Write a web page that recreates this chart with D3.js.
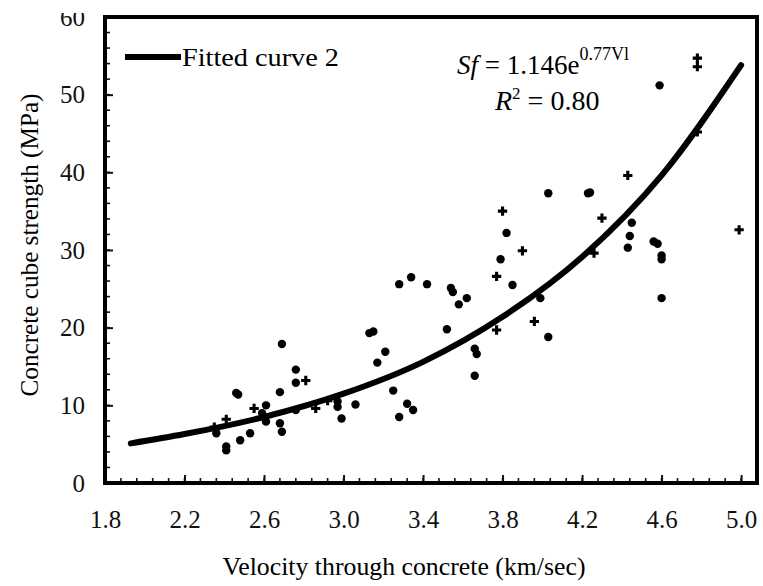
<!DOCTYPE html>
<html>
<head>
<meta charset="utf-8">
<script src="https://cdn.jsdelivr.net/npm/d3@7"></script>
<style>
  body { margin: 0; background: #fff; }
  svg { display: block; }
</style>
</head>
<body>
<svg id="chart" width="763" height="586"></svg>
<script>
// measured points: [velocity km/s, strength MPa]
const dots = [
  [2.36, 6.4], [2.41, 4.7], [2.41, 4.2], [2.46, 11.6], [2.47, 11.4], [2.48, 5.5],
  [2.53, 6.4], [2.61, 10.0], [2.61, 7.9], [2.59, 9.0], [2.69, 17.9], [2.68, 11.7],
  [2.68, 7.7], [2.69, 6.6], [2.76, 14.6], [2.76, 12.9], [2.76, 9.4], [2.97, 10.5],
  [2.97, 9.8], [2.99, 8.3], [3.06, 10.1], [3.13, 19.3], [3.15, 19.5], [3.21, 16.9],
  [3.17, 15.5], [3.25, 11.9], [3.32, 10.2], [3.35, 9.4], [3.28, 8.5], [3.28, 25.6],
  [3.34, 26.5], [3.42, 25.6], [3.54, 25.1], [3.55, 24.6], [3.62, 23.8], [3.58, 23.0],
  [3.52, 19.8], [3.66, 17.3], [3.67, 16.6], [3.66, 13.8], [3.82, 32.2], [3.79, 28.8],
  [3.85, 25.5], [3.99, 23.8], [4.03, 37.3], [4.03, 18.8], [4.23, 37.3], [4.24, 37.4],
  [4.45, 33.5], [4.44, 31.8], [4.43, 30.3], [4.56, 31.1], [4.58, 30.8], [4.60, 28.8],
  [4.60, 29.3], [4.60, 23.8], [4.59, 51.2]
];
const crosses = [
  [2.35, 7.2], [2.41, 8.2], [2.55, 9.6], [2.81, 13.2], [2.86, 9.6], [2.92, 10.6],
  [3.80, 35.0], [3.90, 29.9], [3.77, 26.6], [3.96, 20.8], [3.77, 19.7], [4.30, 34.1],
  [4.43, 39.6], [4.26, 29.6], [4.99, 32.6], [4.78, 45.2], [4.78, 54.7], [4.78, 53.6]
];
// fitted curve
const curveV = [1.93, 2.2, 2.6, 3.0, 3.4, 3.8, 4.2, 4.6, 5.0];
const curveS = [5.1, 6.3, 8.5, 11.5, 15.6, 21.4, 29.1, 39.6, 53.8];

const xTicks = [1.8, 2.2, 2.6, 3.0, 3.4, 3.8, 4.2, 4.6, 5.0];
const yTicks = [0, 10, 20, 30, 40, 50, 60];

const serif = "'Liberation Serif'";
const margin = { top: 17, right: 6, bottom: 103, left: 105 };
const width = 763 - margin.left - margin.right,
  height = 586 - margin.top - margin.bottom;

const svg = d3.select("#chart");
const g = svg.append("g").attr("transform", `translate(${margin.left},${margin.top})`);

const x = d3.scaleLinear().domain([1.8, 5.08]).range([0, width]);
const y = d3.scaleLinear().domain([0, 60]).range([height, 0]);

// minor ticks
const xMinor = d3.range(0, 42).map((i) => 1.8 + i * 0.08);
const yMinor = d3.range(0, 31).map((i) => i * 2);

g.append("g")
  .selectAll("line")
  .data(xMinor)
  .join("line")
  .attr("x1", (d) => x(d)).attr("x2", (d) => x(d))
  .attr("y1", height).attr("y2", height - 5)
  .attr("stroke", "#111").attr("stroke-width", 1.6);

g.append("g")
  .selectAll("line")
  .data(yMinor)
  .join("line")
  .attr("x1", 0).attr("x2", 5)
  .attr("y1", (d) => y(d)).attr("y2", (d) => y(d))
  .attr("stroke", "#111").attr("stroke-width", 1.6);

// major axes with inward ticks
const xAxis = d3.axisBottom(x).tickValues(xTicks).tickFormat(d3.format(".1f"))
  .tickSizeInner(-8).tickSizeOuter(0).tickPadding(27);
const yAxis = d3.axisLeft(y).tickValues(yTicks).tickFormat(d3.format("d"))
  .tickSizeInner(-8).tickSizeOuter(0).tickPadding(20);

const gx = g.append("g").attr("transform", `translate(0,${height})`).call(xAxis);
const gy = g.append("g").call(yAxis);
[gx, gy].forEach((a) => {
  a.attr("font-family", null).attr("font-size", null);
  a.select(".domain").remove();
  a.selectAll(".tick line").attr("stroke", "#111").attr("stroke-width", 2);
  a.selectAll(".tick text").style("font-family", serif).style("font-size", "25px").attr("fill", "#111");
});

// the top label is cut off in the reference
svg.append("defs").append("clipPath").attr("id", "topcut")
  .append("rect").attr("x", -200).attr("y", 13 - margin.top).attr("width", 400).attr("height", 700);
gy.attr("clip-path", "url(#topcut)");

// frame
g.append("rect")
  .attr("width", width).attr("height", height)
  .attr("fill", "none").attr("stroke", "#000").attr("stroke-width", 4);

// fitted curve
const line = d3.line()
  .x((d) => x(d[0])).y((d) => y(d[1]))
  .curve(d3.curveMonotoneX);
g.append("path")
  .datum(curveV.map((v, i) => [v, curveS[i]]))
  .attr("d", line)
  .attr("fill", "none").attr("stroke", "#000").attr("stroke-width", 6)
  .attr("stroke-linecap", "round");

// data points
g.append("g")
  .selectAll("circle")
  .data(dots)
  .join("circle")
  .attr("cx", (d) => x(d[0])).attr("cy", (d) => y(d[1]))
  .attr("r", 4.2).attr("fill", "#000");

const cross = d3.symbol().type(d3.symbolCross).size(48);
g.append("g")
  .selectAll("path")
  .data(crosses)
  .join("path")
  .attr("transform", (d) => `translate(${x(d[0])},${y(d[1])})`)
  .attr("d", cross).attr("fill", "#000");

// legend
svg.append("line")
  .attr("x1", 125).attr("x2", 181).attr("y1", 57).attr("y2", 57)
  .attr("stroke", "#000").attr("stroke-width", 6);
svg.append("text").attr("x", 182).attr("y", 66)
  .style("font-family", serif).style("font-size", "26px")
  .attr("textLength", 157).attr("lengthAdjust", "spacingAndGlyphs")
  .text("Fitted curve 2");

// equation
const eq = svg.append("text").attr("x", 457).attr("y", 74)
  .style("font-family", serif).style("font-size", "27px");
eq.append("tspan").style("font-style", "italic").text("Sf");
eq.append("tspan").text(" = 1.146e");
eq.append("tspan").attr("dy", -14).style("font-size", "18px").text("0.77Vl");

const r2 = svg.append("text").attr("x", 495).attr("y", 110)
  .style("font-family", serif).style("font-size", "28px");
r2.append("tspan").style("font-style", "italic").text("R");
r2.append("tspan").attr("dy", -11).style("font-size", "17px").text("2");
r2.append("tspan").attr("dy", 11).text(" = 0.80");

// axis titles
svg.append("text")
  .attr("x", 404).attr("y", 575)
  .attr("text-anchor", "middle")
  .style("font-family", serif).style("font-size", "25px")
  .attr("textLength", 363).attr("lengthAdjust", "spacingAndGlyphs")
  .text("Velocity through concrete (km/sec)");

svg.append("text")
  .attr("transform", "translate(38,245) rotate(-90)")
  .attr("text-anchor", "middle")
  .style("font-family", serif).style("font-size", "25px")
  .attr("textLength", 303).attr("lengthAdjust", "spacingAndGlyphs")
  .text("Concrete cube strength (MPa)");
</script>
</body>
</html>
